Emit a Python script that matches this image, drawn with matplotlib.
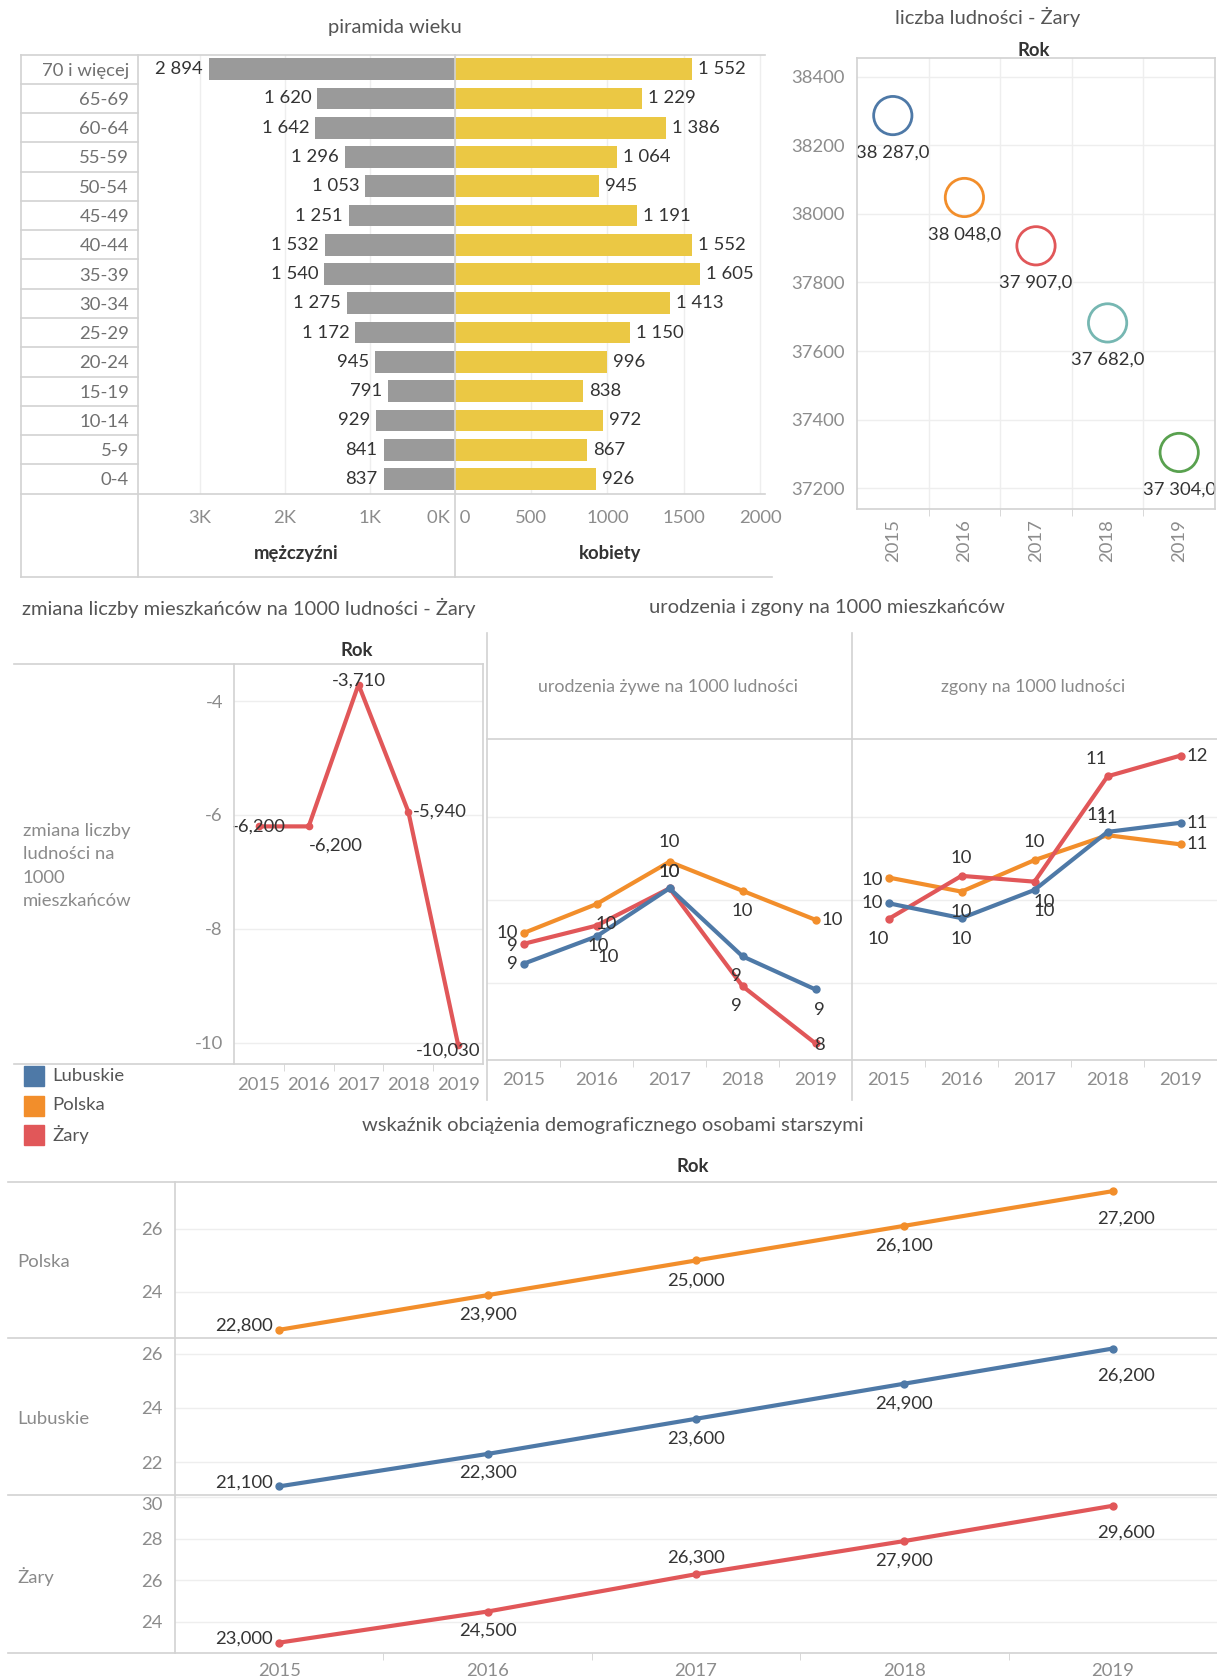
import matplotlib
matplotlib.use("Agg")
import matplotlib.pyplot as plt
import numpy as np
from matplotlib.lines import Line2D
from matplotlib.patches import Rectangle

plt.rcParams['font.family'] = ['Lato', 'DejaVu Sans']

# ---------------- data ----------------
age_groups = ['70 i więcej', '65-69', '60-64', '55-59', '50-54', '45-49', '40-44', '35-39',
              '30-34', '25-29', '20-24', '15-19', '10-14', '5-9', '0-4']
men = [2894, 1620, 1642, 1296, 1053, 1251, 1532, 1540, 1275, 1172, 945, 791, 929, 841, 837]
women = [1552, 1229, 1386, 1064, 945, 1191, 1552, 1605, 1413, 1150, 996, 838, 972, 867, 926]
men_ticks = [3000, 2000, 1000, 0]
men_tick_labels = ['3K', '2K', '1K', '0K ']
women_ticks = [0, 500, 1000, 1500, 2000]
women_tick_labels = [' 0', '500', '1000', '1500', '2000']

years = [2015, 2016, 2017, 2018, 2019]
population = [38287, 38048, 37907, 37682, 37304]
pop_ticks = [37200, 37400, 37600, 37800, 38000, 38200, 38400]

change_zary = [-6.20, -6.20, -3.71, -5.94, -10.03]
change_ticks = [-4, -6, -8, -10]

regions = ['Lubuskie', 'Polska', 'Żary']
births = {
    'Polska':   [9.60, 9.95, 10.46, 10.11, 9.76],
    'Żary':     [9.47, 9.69, 10.14, 8.96, 8.27],
    'Lubuskie': [9.23, 9.56, 10.14, 9.32, 8.92],
}
deaths = {
    'Polska':   [10.27, 10.10, 10.48, 10.78, 10.67],
    'Żary':     [9.77, 10.29, 10.22, 11.49, 11.74],
    'Lubuskie': [9.96, 9.78, 10.12, 10.82, 10.93],
}

old_age = {
    'Polska':   [22.8, 23.9, 25.0, 26.1, 27.2],
    'Lubuskie': [21.1, 22.3, 23.6, 24.9, 26.2],
    'Żary':     [23.0, 24.5, 26.3, 27.9, 29.6],
}
old_ticks = {'Polska': [24, 26], 'Lubuskie': [22, 24, 26], 'Żary': [24, 26, 28, 30]}

# ---------------- style ----------------
colors = {'Lubuskie': '#4E79A7', 'Polska': '#F28E2B', 'Żary': '#E15759'}
pop_colors = ['#4E79A7', '#F28E2B', '#E15759', '#76B7B2', '#59A14F']
GRAY_BAR = '#9a9a9a'
YELLOW = '#EBC844'
FRAME = '#d2d2d2'
GRID = '#eeeeee'
TICK = '#8c8c8c'
TXT = '#333333'
TITLE = '#555555'
FS = 13.3      # labels / ticks
FS_T = 14.5    # titles

W, H = 1217, 1680
fig = plt.figure(figsize=(W / 100, H / 100), dpi=100)
fig.patch.set_facecolor('white')


def add_ax(x0, y0, x1, y1):
    return fig.add_axes([x0 / W, 1 - y1 / H, (x1 - x0) / W, (y1 - y0) / H])


def ftext(x, y, s, **kw):
    kw.setdefault('ha', 'center')
    kw.setdefault('va', 'center')
    fig.text(x / W, 1 - y / H, s, **kw)


def fline(x0, y0, x1, y1, color=FRAME, lw=1.2):
    fig.add_artist(Line2D([x0 / W, x1 / W], [1 - y0 / H, 1 - y1 / H],
                          transform=fig.transFigure, color=color, lw=lw))


def px(p):
    return p * 0.72


def clean(ax):
    for s in ax.spines.values():
        s.set_visible(False)
    ax.set_facecolor('none')


# ================= Pyramid =================
ftext(395, 28, 'piramida wieku', fontsize=FS_T, color=TITLE)
idx = np.arange(len(age_groups))
axm = add_ax(138, 54.5, 455, 493.6)
axw = add_ax(455, 54.5, 765, 493.6)
for ax in (axm, axw):
    clean(ax)
    ax.set_ylim(len(age_groups) - 0.5, -0.5)
    ax.grid(axis='x', color=GRID, lw=1)
    ax.set_axisbelow(True)
    ax.tick_params(axis='x', length=0, pad=px(16), labelsize=FS, labelcolor=TICK)
axm.barh(idx, men, height=0.74, color=GRAY_BAR)
axw.barh(idx, women, height=0.74, color=YELLOW)
axm.set_xlim(3729, 0)
axw.set_xlim(0, 2033)
axm.set_xticks(men_ticks)
axm.set_xticklabels(men_tick_labels)
axw.set_xticks(women_ticks)
axw.set_xticklabels(women_tick_labels)
for lab in axm.get_xticklabels():
    if lab.get_text().strip() == '0K':
        lab.set_ha('right')
for lab in axw.get_xticklabels():
    if lab.get_text().strip() == '0':
        lab.set_ha('left')
axm.set_yticks(idx)
axm.set_yticklabels(age_groups)
axm.tick_params(axis='y', length=0, pad=px(9), labelsize=FS, labelcolor='#707070')
axw.set_yticks([])
for i, v in enumerate(men):
    axm.annotate(f"{v:,}".replace(',', ' '), (v, i), xytext=(-px(6), 0),
                 textcoords='offset points', ha='right', va='center', fontsize=FS, color=TXT)
for i, v in enumerate(women):
    axw.annotate(f"{v:,}".replace(',', ' '), (v, i), xytext=(px(6), 0),
                 textcoords='offset points', ha='left', va='center', fontsize=FS, color=TXT)
ftext(296, 554, 'mężczyźni', fontsize=FS, color=TXT, fontweight='bold')
ftext(610, 554, 'kobiety', fontsize=FS, color=TXT, fontweight='bold')
row_h = (493.6 - 54.5) / len(age_groups)
for i in range(1, len(age_groups)):
    fline(21, 54.5 + i * row_h, 138, 54.5 + i * row_h)
fline(21, 54.5, 765, 54.5)
fline(21, 493.6, 765, 493.6)
fline(21, 577, 772, 577)
fline(21, 54.5, 21, 577)
fline(138, 54.5, 138, 577)
fline(455, 54.5, 455, 577)

# ================= Population =================
ftext(988, 17, 'liczba ludności - Żary', fontsize=FS_T, color=TITLE)
ftext(1034, 51, 'Rok', fontsize=FS, color=TXT, fontweight='bold')
axp = add_ax(857, 58, 1215, 509)
clean(axp)
xi = np.arange(len(years))
axp.set_xlim(-0.5, 4.5)
axp.set_ylim(37139, 38455)
axp.set_yticks(pop_ticks)
axp.set_yticklabels([str(t) for t in pop_ticks])
axp.tick_params(axis='y', length=0, pad=px(12), labelsize=FS, labelcolor=TICK)
axp.set_xticks(xi)
axp.set_xticklabels([str(y) for y in years], rotation=90)
axp.tick_params(axis='x', which='major', length=0, pad=px(10), labelsize=FS, labelcolor=TICK)
axp.set_xticks(xi[:-1] + 0.5, minor=True)
axp.tick_params(axis='x', which='minor', length=5, color=FRAME)
axp.grid(axis='y', color=GRID, lw=1)
axp.grid(axis='x', which='minor', color=GRID, lw=1)
axp.set_axisbelow(True)
axp.scatter(xi, population, s=760, facecolors='none', edgecolors=pop_colors, linewidths=2.0, zorder=3)
for x, v in zip(xi, population):
    s = f"{v:,.1f}".replace(',', ' ').replace('.', ',')
    axp.annotate(s, (x, v), xytext=(0, -px(37)), textcoords='offset points',
                 ha='center', va='center', fontsize=FS, color=TXT)
fline(857, 58, 1215, 58)
fline(857, 58, 857, 509)
fline(1215, 58, 1215, 509)
fline(857, 509, 1215, 509)

# ================= Zmiana =================
ftext(22, 608, 'zmiana liczby mieszkańców na 1000 ludności - Żary', fontsize=FS_T, color=TITLE, ha='left')
ftext(357, 651, 'Rok', fontsize=FS, color=TXT, fontweight='bold')
axz = add_ax(234, 664, 483, 1064)
clean(axz)
axz.set_xlim(-0.5, 4.5)
axz.set_ylim(-10.37, -3.35)
axz.set_yticks(change_ticks)
axz.set_yticklabels([str(t) for t in change_ticks])
axz.tick_params(axis='y', length=0, pad=px(11), labelsize=FS, labelcolor=TICK)
axz.set_xticks(xi)
axz.set_xticklabels([str(y) for y in years])
axz.tick_params(axis='x', which='major', length=0, pad=px(13), labelsize=FS, labelcolor=TICK)
axz.set_xticks(xi[:-1] + 0.5, minor=True)
axz.tick_params(axis='x', which='minor', length=5, color=FRAME)
axz.grid(axis='y', color=GRID, lw=1)
axz.set_axisbelow(True)
axz.plot(xi, change_zary, color=colors['Żary'], lw=3.0, marker='o', ms=4.5, zorder=3)
z_offsets = [(0, 0, 'center'), (0, 19, 'left'), (0, -4, 'center'), (5, 0, 'left'), (-10, 6, 'center')]
for x, v, (dx, dy, ha) in zip(xi, change_zary, z_offsets):
    s = f"{v:.3f}".replace('.', ',')
    axz.annotate(s, (x, v), xytext=(px(dx), -px(dy)), textcoords='offset points',
                 ha=ha, va='center', fontsize=FS, color=TXT, zorder=4)
ftext(23, 866, 'zmiana liczby\nludności na\n1000\nmieszkańców', ha='left', fontsize=FS,
      color='#8a8a8a', linespacing=1.55)
fline(14, 664, 483, 664)
fline(14, 1064, 483, 1064)
fline(234, 664, 234, 1064)
fline(483, 664, 483, 1064)

# legend
for k, name in enumerate(regions):
    yc = 1076 + k * 29.5
    fig.add_artist(Rectangle((24 / W, 1 - (yc + 10) / H), 20 / W, 20 / H,
                             transform=fig.transFigure, color=colors[name]))
    ftext(52, yc, name, ha='left', fontsize=FS, color='#555555')

# ================= Births / deaths =================
ftext(827, 607, 'urodzenia i zgony na 1000 mieszkańców', fontsize=FS_T, color=TITLE)
ftext(668, 687, 'urodzenia żywe na 1000 ludności', fontsize=FS - 0.5, color='#8a8a8a')
ftext(1033, 687, 'zgony na 1000 ludności', fontsize=FS - 0.5, color='#8a8a8a')
axb = add_ax(487, 739, 852, 1060)
axd = add_ax(852, 739, 1217, 1060)
# label placement per region per year: (dx px, dy px down, ha)
births_pos = {
    'Polska':   [(-6, 0, 'right'), (12, 53, 'center'), (0, -20, 'center'), (0, 20, 'center'), (6, 0, 'left')],
    'Żary':     [(-6, 2, 'right'), (10, -2, 'center'), (0, -16, 'center'), (-6, 20, 'center'), (4, 2, 'center')],
    'Lubuskie': [(-6, 0, 'right'), (2, 10, 'center'), (0, -16, 'center'), (-6, 20, 'center'), (4, 21, 'center')],
}
deaths_pos = {
    'Polska':   [(-6, 2, 'right'), (0, 20, 'center'), (0, -18, 'center'), (-10, -20, 'center'), (6, 0, 'left')],
    'Żary':     [(-10, 20, 'center'), (0, -18, 'center'), (10, 20, 'center'), (-11, -17, 'center'), (6, 0, 'left')],
    'Lubuskie': [(-6, 0, 'right'), (0, 21, 'center'), (10, 21, 'center'), (0, -14, 'center'), (6, 0, 'left')],
}
for ax, data, pos in ((axb, births, births_pos), (axd, deaths, deaths_pos)):
    clean(ax)
    ax.set_xlim(-0.5, 4.5)
    ax.set_ylim(8.07, 11.94)
    ax.set_yticks([9, 10, 11])
    ax.set_yticklabels([])
    ax.tick_params(axis='y', length=0)
    ax.grid(axis='y', color=GRID, lw=1)
    ax.set_axisbelow(True)
    ax.set_xticks(xi)
    ax.set_xticklabels([str(y) for y in years])
    ax.tick_params(axis='x', which='major', length=0, pad=px(12), labelsize=FS, labelcolor=TICK)
    ax.set_xticks(xi[:-1] + 0.5, minor=True)
    ax.tick_params(axis='x', which='minor', length=5, color=FRAME)
    for name in ['Polska', 'Żary', 'Lubuskie']:
        vals = data[name]
        ax.plot(xi, vals, color=colors[name], lw=3.0, marker='o', ms=5, zorder=3)
        for x, v, (dx, dy, ha) in zip(xi, vals, pos[name]):
            ax.annotate(str(int(np.floor(v + 0.5))), (x, v), xytext=(px(dx), -px(dy)),
                        textcoords='offset points', ha=ha, va='center', fontsize=FS,
                        color=TXT, zorder=4)
fline(487, 633, 487, 1100)
fline(852, 633, 852, 1100)
fline(487, 739, 1217, 739)
fline(487, 1060, 1217, 1060)

# ================= Old-age dependency =================
ftext(613, 1126, 'wskaźnik obciążenia demograficznego osobami starszymi', fontsize=FS_T, color=TITLE)
ftext(693, 1167, 'Rok', fontsize=FS, color=TXT, fontweight='bold')
rows = [('Polska', 1182, 1338, (22.54, 27.49)),
        ('Lubuskie', 1338, 1495, (20.78, 26.59)),
        ('Żary', 1495, 1653, (22.5, 30.12))]
old_pos = {
    'Polska':   [(-6, -4, 'right'), (0, 19, 'center'), (0, 20, 'center'), (0, 20, 'center'), (13, 27, 'center')],
    'Lubuskie': [(-6, -4, 'right'), (0, 19, 'center'), (0, 20, 'center'), (0, 20, 'center'), (13, 27, 'center')],
    'Żary':     [(-6, -4, 'right'), (0, 19, 'center'), (0, -17, 'center'), (0, 20, 'center'), (13, 27, 'center')],
}
for k, (name, y0, y1, lim) in enumerate(rows):
    ax = add_ax(175, y0, 1217, y1)
    clean(ax)
    ax.set_xlim(-0.5, 4.5)
    ax.set_ylim(*lim)
    ax.set_yticks(old_ticks[name])
    ax.set_yticklabels([str(t) for t in old_ticks[name]])
    ax.tick_params(axis='y', length=0, pad=px(12), labelsize=FS, labelcolor=TICK)
    for t, lab in zip(old_ticks[name], ax.get_yticklabels()):
        if lim[1] - t < 0.3:
            lab.set_va('top')
    ax.grid(axis='y', color=GRID, lw=1)
    ax.set_axisbelow(True)
    ax.set_xticks(xi)
    if k == len(rows) - 1:
        ax.set_xticklabels([str(y) for y in years])
        ax.tick_params(axis='x', which='major', length=0, pad=px(10), labelsize=FS, labelcolor=TICK)
        ax.set_xticks(xi[:-1] + 0.5, minor=True)
        ax.tick_params(axis='x', which='minor', length=5, color=FRAME)
    else:
        ax.set_xticklabels([])
        ax.tick_params(axis='x', length=0)
    vals = old_age[name]
    ax.plot(xi, vals, color=colors[name], lw=3.0, marker='o', ms=5, zorder=3)
    for x, v, (dx, dy, ha) in zip(xi, vals, old_pos[name]):
        ax.annotate(f"{v:.3f}".replace('.', ','), (x, v), xytext=(px(dx), -px(dy)),
                    textcoords='offset points', ha=ha, va='center', fontsize=FS,
                    color=TXT, zorder=4)
    ftext(17, (y0 + y1) / 2 + 2, name, ha='left', fontsize=FS, color='#8a8a8a')
    fline(8, y0, 1217, y0)
fline(8, 1653, 1217, 1653)
fline(175, 1182, 175, 1653)

fig.savefig('out.png', dpi=100, facecolor='white')
